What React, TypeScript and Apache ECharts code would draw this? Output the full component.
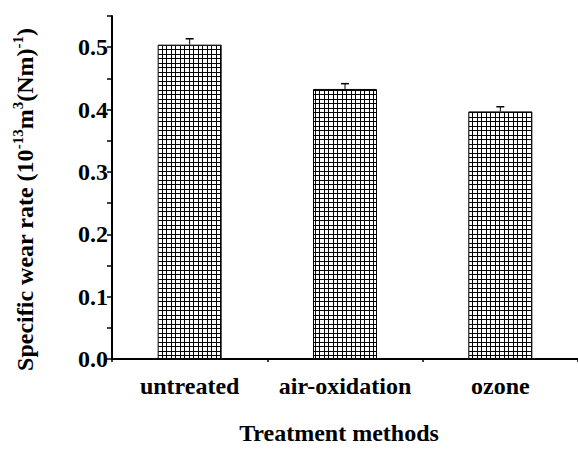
import React, { useEffect, useRef } from "react";
import * as echarts from "echarts";

const categories = ["untreated", "air-oxidation", "ozone"];
const rates = [0.504, 0.433, 0.397];
const errors = [0.0095, 0.0085, 0.0075];

const FONT = "Liberation Serif";

function makePattern(): HTMLCanvasElement {
  const c = document.createElement("canvas");
  c.width = 9;
  c.height = 9;
  const ctx = c.getContext("2d")!;
  ctx.fillStyle = "#fff";
  ctx.fillRect(0, 0, 9, 9);
  ctx.fillStyle = "#000";
  ctx.fillRect(0, 0, 9, 1);
  ctx.fillRect(0, 4, 9, 1);
  ctx.fillRect(0, 0, 1, 9);
  ctx.fillRect(4, 0, 1, 9);
  return c;
}

export default function App() {
  const ref = useRef<HTMLDivElement>(null);
  useEffect(() => {
    document.body.style.margin = "0";
    if (!ref.current) return;
    const chart = echarts.init(ref.current, null, { renderer: "svg" });
    const pattern = makePattern();
    const labelStyle = {
      fontFamily: FONT,
      fontWeight: "bold" as const,
      fontSize: 24,
      color: "#000",
    };
    chart.setOption({
      animation: false,
      backgroundColor: "#fff",
      grid: { left: 112, top: 16, width: 476, height: 349 },
      xAxis: [
        {
          type: "category",
          data: categories,
          axisLine: { show: true, lineStyle: { color: "#000", width: 2 } },
          axisTick: { alignWithLabel: true, length: 6, lineStyle: { color: "#000", width: 1.5 } },
          axisLabel: { ...labelStyle, margin: 15, interval: 0 },
          splitLine: { show: false },
          name: "Treatment methods",
          nameLocation: "middle",
          nameGap: 62,
          nameTextStyle: { ...labelStyle, padding: [0, 12, 0, 0] },
        },
        {
          type: "category",
          data: categories,
          position: "bottom",
          axisLine: { show: false },
          axisTick: { show: true, length: 3, lineStyle: { color: "#000", width: 1.5 } },
          axisLabel: { show: false },
          splitLine: { show: false },
        },
      ],
      yAxis: {
        type: "value",
        min: 0,
        max: 0.55,
        interval: 0.05,
        axisLine: { show: true, lineStyle: { color: "#000", width: 2 } },
        axisTick: { show: true, length: 5, lineStyle: { color: "#000", width: 1.5 } },
        axisLabel: {
          ...labelStyle,
          margin: 4,
          formatter: (v: number) =>
            Math.round(v * 100) % 10 === 0 ? v.toFixed(1) : "",
        },
        splitLine: { show: false },
        name: "{b|Specific wear rate (10}{s|-13}{b|m}{s|3}{b|(Nm)}{s|-1}{b|)}",
        nameLocation: "middle",
        nameGap: 72,
        nameTextStyle: {
          padding: [0, 24, 0, 0],
          rich: {
            b: { ...labelStyle, fontSize: 24, lineHeight: 30, verticalAlign: "middle" },
            s: { ...labelStyle, fontSize: 15, lineHeight: 16, verticalAlign: "top" },
          },
        },
      },
      series: [
        {
          type: "bar",
          data: rates,
          barWidth: 64,
          itemStyle: {
            color: { image: pattern, repeat: "repeat" },
            borderColor: "#000",
            borderWidth: 1,
          },
        },
        {
          type: "custom",
          data: categories.map((c, i) => [i, rates[i], errors[i]]),
          encode: { x: 0, y: 1 },
          z: 5,
          renderItem: (params: any, api: any) => {
            const x = api.value(0);
            const v = api.value(1);
            const e = api.value(2);
            const base = api.coord([x, v]);
            const top = api.coord([x, v + e]);
            return {
              type: "group",
              children: [
                {
                  type: "line",
                  shape: { x1: base[0], y1: base[1], x2: top[0], y2: top[1] },
                  style: { stroke: "#000", lineWidth: 1 },
                },
                {
                  type: "line",
                  shape: { x1: top[0] - 4, y1: top[1], x2: top[0] + 4, y2: top[1] },
                  style: { stroke: "#000", lineWidth: 1.5 },
                },
              ],
            };
          },
        },
      ],
    });
    return () => chart.dispose();
  }, []);
  return <div ref={ref} style={{ width: 578, height: 450 }} />;
}
